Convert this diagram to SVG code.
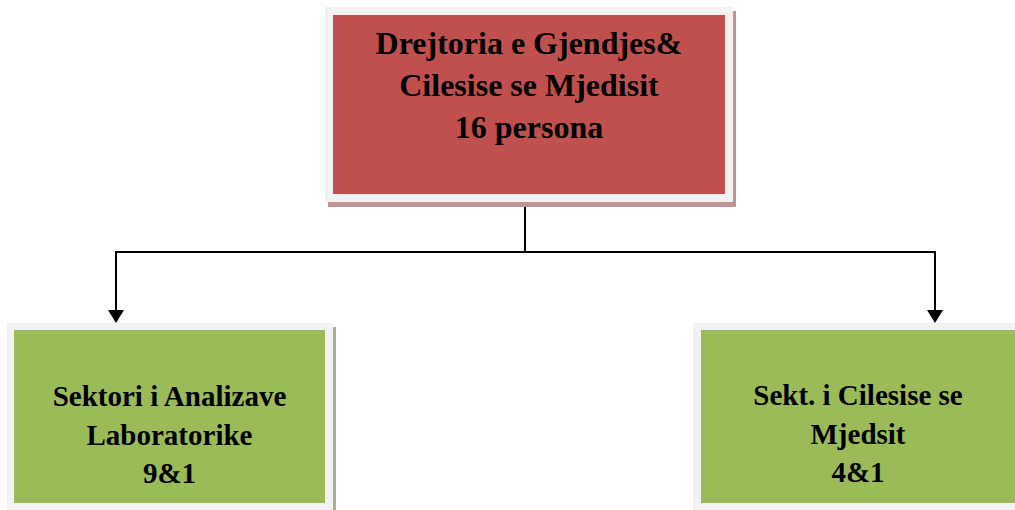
<svg xmlns="http://www.w3.org/2000/svg" width="1015" height="510" viewBox="0 0 1015 510">
<style>
.frame{fill:#F2F2F2}
.red{fill:#C0504D}
.green{fill:#9BBB59}
.t{font-family:'Liberation Serif','Times New Roman',Times,serif;font-weight:700;fill:#000;text-anchor:middle}
.t1{font-size:32px}
.t2{font-size:29px}
.conn{fill:none;stroke:#000;stroke-width:2}
</style>
<rect width="1015" height="510" fill="#fff"/>
<g id="connectors">
<path class="conn" d="M525,202 V252"/>
<path class="conn" d="M116,252 H935"/>
<path class="conn" d="M116,251 V312"/>
<path class="conn" d="M935,251 V312"/>
<path d="M108,310 L124,310 L116,323 Z" fill="#000"/>
<path d="M927,310 L943,310 L935,323 Z" fill="#000"/>
</g>
<g id="node-top">
<rect x="328" y="11" width="408" height="196" fill="#BF9494"/>
<rect class="frame" x="325" y="7" width="408" height="195"/>
<rect class="red" x="333" y="15" width="392" height="179"/>
<text class="t t1" x="529" y="54">Drejtoria e Gjendjes&amp;</text>
<text class="t t1" x="529" y="96">Cilesise se Mjedisit</text>
<text class="t t1" x="529" y="138">16 persona</text>
</g>
<g id="node-left">
<rect x="10" y="327" width="326" height="190" fill="#A9B38F"/>
<rect class="frame" x="7" y="323" width="326" height="190"/>
<rect class="green" x="14" y="330" width="311" height="173"/>
<text class="t t2" x="169.5" y="406">Sektori i Analizave</text>
<text class="t t2" x="169.5" y="445">Laboratorike</text>
<text class="t t2" x="169.5" y="483">9&amp;1</text>
</g>
<g id="node-right">
<rect class="frame" x="693" y="323" width="330" height="190"/>
<rect class="green" x="701" y="330" width="320" height="173"/>
<text class="t t2" x="858" y="405">Sekt. i Cilesise se</text>
<text class="t t2" x="858" y="444">Mjedsit</text>
<text class="t t2" x="858" y="482">4&amp;1</text>
</g>
</svg>
